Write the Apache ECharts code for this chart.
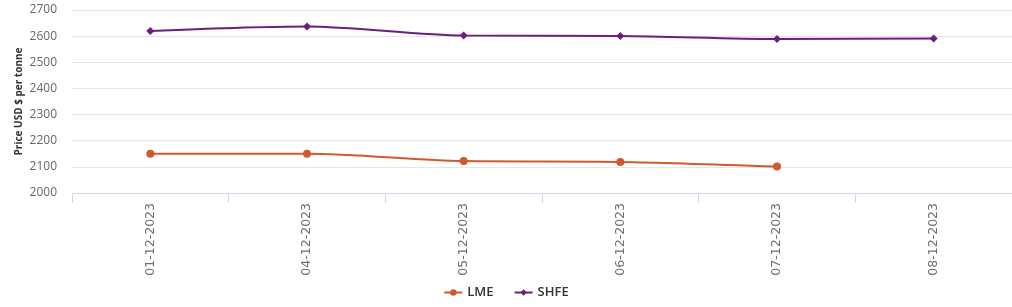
<!DOCTYPE html>
<html>
<head>
<meta charset="utf-8">
<script src="https://cdn.jsdelivr.net/npm/echarts@6/dist/echarts.min.js"></script>
<style>
  html, body { margin: 0; padding: 0; background: #fff; }
  #chart { width: 1012px; height: 307px; }
</style>
</head>
<body>
<div id="chart"></div>
<script>
// categories and values
var dates = ['01-12-2023', '04-12-2023', '05-12-2023', '06-12-2023', '07-12-2023', '08-12-2023'];
var lme = [2150, 2150, 2122, 2119, 2101, null];
var shfe = [2620, 2637, 2602, 2601, 2589, 2591];

var myChart = echarts.init(document.getElementById('chart'));
var option = {
    animation: false,
    textStyle: { fontFamily: 'Open Sans' },
    grid: { left: 72, right: -4, top: 10, bottom: 114 },
    legend: {
        bottom: 3,
        left: 'center',
        itemGap: 20,
        itemWidth: 18,
        itemHeight: 8,
        textStyle: { color: '#333', fontSize: 13, fontWeight: 600, fontFamily: 'Open Sans' },
        data: ['LME', 'SHFE']
    },
    xAxis: {
        type: 'category',
        boundaryGap: true,
        data: dates,
        axisLine: { lineStyle: { color: '#ccd6eb' } },
        axisTick: { show: true, length: 10, lineStyle: { color: '#ccd6eb' } },
        axisLabel: { rotate: 90, color: '#6e6e6e', fontSize: 12.5, margin: 10, fontFamily: 'DejaVu Sans' }
    },
    yAxis: {
        type: 'value',
        min: 2000,
        max: 2700,
        interval: 100,
        name: 'Price USD $ per tonne',
        nameLocation: 'middle',
        nameGap: 48,
        nameMoveOverlap: false,
        nameTextStyle: { color: '#333', fontSize: 10, fontWeight: 'bold', fontFamily: 'Open Sans' },
        axisLine: { show: false },
        axisTick: { show: false },
        axisLabel: {
            color: '#666', fontSize: 12, margin: 15, fontFamily: 'Open Sans',
            formatter: function (v) { return String(v); }
        },
        splitLine: { lineStyle: { color: '#e6e6e6' } }
    },
    series: [
        {
            name: 'LME',
            type: 'line',
            smooth: 0.3,
            data: lme,
            symbol: 'circle',
            symbolSize: 8,
            itemStyle: { color: '#cf5a2e' },
            lineStyle: { width: 2, color: '#cf5a2e' }
        },
        {
            name: 'SHFE',
            type: 'line',
            smooth: 0.3,
            data: shfe,
            symbol: 'diamond',
            symbolSize: 8,
            itemStyle: { color: '#6b1e7c' },
            lineStyle: { width: 2, color: '#6b1e7c' }
        }
    ]
};
myChart.setOption(option, true);
</script>
</body>
</html>
